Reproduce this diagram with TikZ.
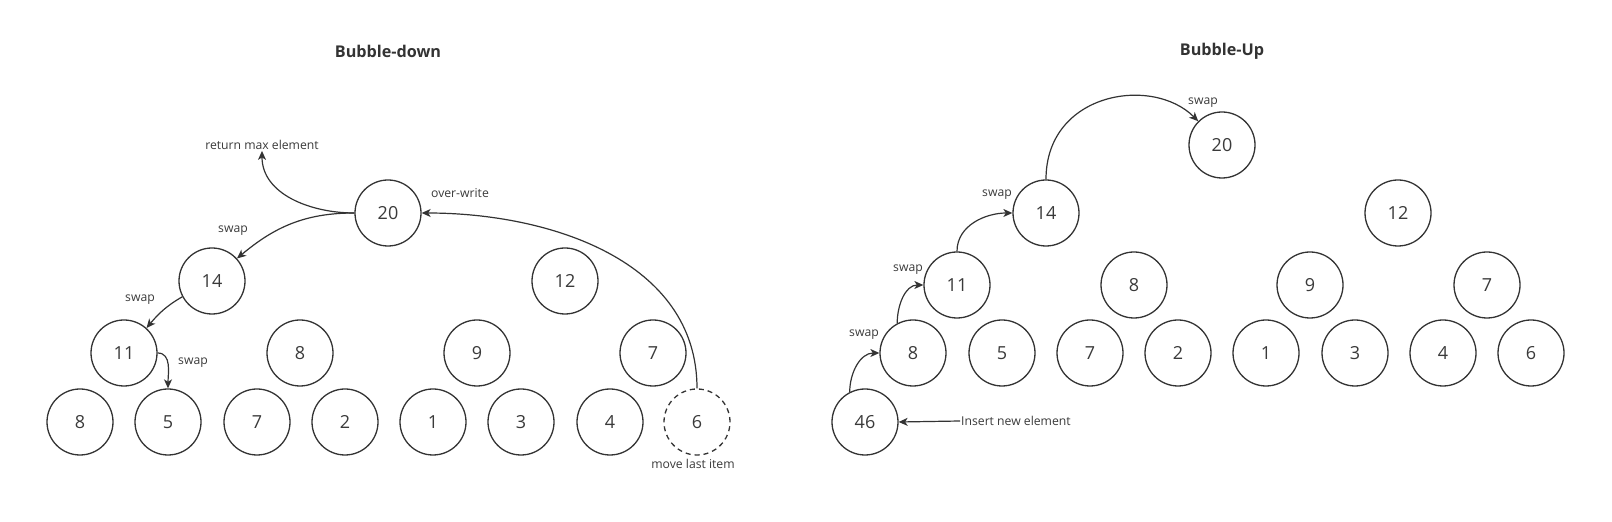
\documentclass[tikz,border=0pt]{standalone}
\usepackage{fontspec}
\setmainfont{Open Sans}
\usetikzlibrary{arrows.meta}
\definecolor{ink}{HTML}{333333}
\definecolor{txt}{HTML}{3A3A3A}
\tikzset{
  heapnode/.style={circle, draw=ink, line width=1.3pt, minimum size=66pt, inner sep=0pt, text=txt, font=\fontsize{18}{20}\selectfont},
  lastnode/.style={heapnode, dashed, dash pattern=on 5pt off 4pt},
  lbl/.style={text=txt, font=\fontsize{12.2}{14}\selectfont, inner sep=1pt},
  ttl/.style={text=ink, font=\fontsize{16.2}{18}\selectfont\bfseries},
  conn/.style={draw=ink, line width=1.2pt, -{Stealth[length=9pt,width=8pt,inset=2.5pt]}}
}
\begin{document}
\begin{tikzpicture}[x=1pt,y=1pt]
\useasboundingbox (0,0) rectangle (1612,522);
% titles
\node[ttl] (t1) at (388,471) {Bubble-down};
\node[ttl] (t2) at (1222,471) {Bubble-Up};
% ---------- left tree ----------
\node[heapnode] (L20) at (388,309) {20};
\node[heapnode] (L14) at (212,241) {14};
\node[heapnode] (L12) at (565,241) {12};
\node[heapnode] (L11) at (124,169) {11};
\node[heapnode] (L8)  at (300,169) {8};
\node[heapnode] (L9)  at (477,169) {9};
\node[heapnode] (L7)  at (653,169) {7};
\node[heapnode] (La)  at (80,100) {8};
\node[heapnode] (L5)  at (168,100) {5};
\node[heapnode] (Lb)  at (257,100) {7};
\node[heapnode] (L2)  at (345,100) {2};
\node[heapnode] (L1)  at (433,100) {1};
\node[heapnode] (L3)  at (521,100) {3};
\node[heapnode] (L4)  at (610,100) {4};
\node[lastnode] (L6)  at (697,100) {6};
% left labels
\node[lbl] (rme) at (262,377) {return max element};
\node[lbl] (sw1) at (233,291) {swap};
\node[lbl] (sw2) at (140,222) {swap};
\node[lbl] (sw3) at (193,159) {swap};
\node[lbl] (ovw) at (460,329) {over-write};
\node[lbl] (mli) at (693,58) {move last item};
% left connectors
\draw[conn] (L20.west) to[out=180,in=-90] (rme.south);
\draw[conn] (L20.west) to[out=180,in=40] (L14.42);
\draw[conn] (L14.208) to[out=210,in=50] (L11.48);
\draw[conn] (L11.east) to[out=0,in=90] (L5.north);
\draw[conn] (L6.north) to[out=90,in=0] (L20.east);
% ---------- right tree ----------
\node[heapnode] (R20) at (1222,377) {20};
\node[heapnode] (R14) at (1046,309) {14};
\node[heapnode] (R12) at (1398,309) {12};
\node[heapnode] (R11) at (957,237) {11};
\node[heapnode] (R8)  at (1134,237) {8};
\node[heapnode] (R9)  at (1310,237) {9};
\node[heapnode] (R7)  at (1487,237) {7};
\node[heapnode] (Ra)  at (913,169) {8};
\node[heapnode] (R5)  at (1002,169) {5};
\node[heapnode] (Rb)  at (1090,169) {7};
\node[heapnode] (R2)  at (1178,169) {2};
\node[heapnode] (R1)  at (1266,169) {1};
\node[heapnode] (R3)  at (1355,169) {3};
\node[heapnode] (R4)  at (1443,169) {4};
\node[heapnode] (R6)  at (1531,169) {6};
\node[heapnode] (R46) at (865,100) {46};
% right labels
\node[lbl] (rs1) at (1203,419) {swap};
\node[lbl] (rs2) at (997,327) {swap};
\node[lbl] (rs3) at (908,252) {swap};
\node[lbl] (rs4) at (864,187) {swap};
\node[lbl, anchor=west] (ins) at (960,101) {Insert new element};
% right connectors
\draw[conn] (ins.west) -- (R46.east);
\draw[conn] (R46.117) to[out=90,in=180] (Ra.west);
\draw[conn] (Ra.118) to[out=90,in=180] (R11.west);
\draw[conn] (R11.north) to[out=90,in=180] (R14.west);
\draw[conn] (R14.north) .. controls +(0,87) and +(-46,46) .. (R20.135);
\end{tikzpicture}
\end{document}
